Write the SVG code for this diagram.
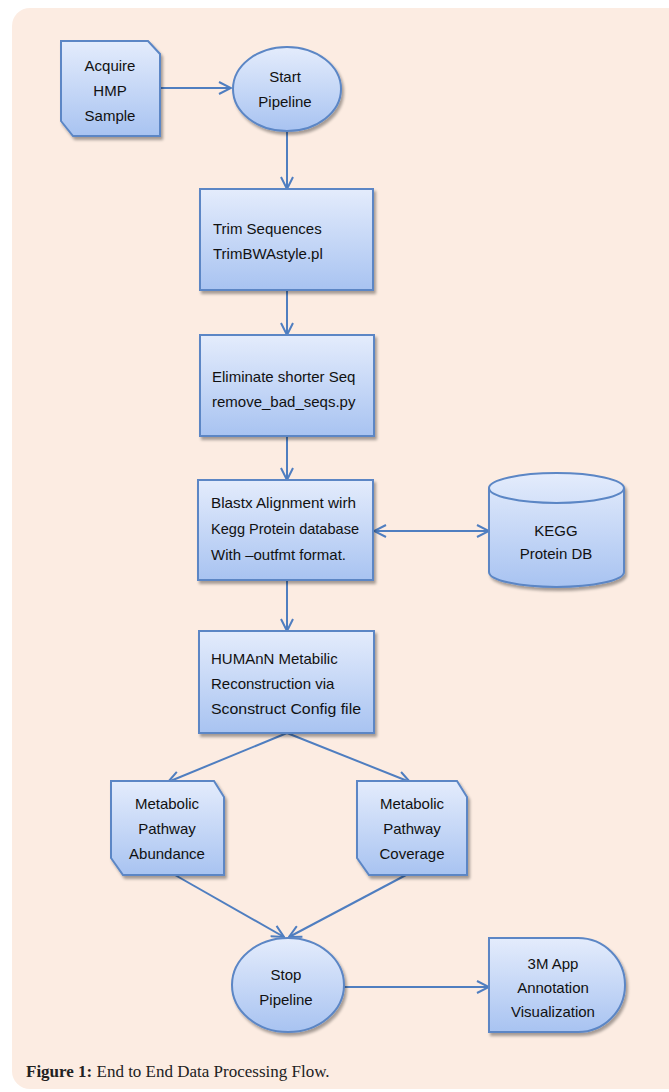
<svg xmlns="http://www.w3.org/2000/svg" width="669" height="1092" viewBox="0 0 669 1092">
<defs>
<linearGradient id="g" x1="0" y1="0" x2="0" y2="1">
<stop offset="0" stop-color="#e4ecfc"/>
<stop offset="1" stop-color="#a8c3f1"/>
</linearGradient>
<filter id="sh" x="-10%" y="-10%" width="130%" height="130%">
<feGaussianBlur in="SourceAlpha" stdDeviation="1.5"/>
<feOffset dx="2" dy="3" result="b"/>
<feComponentTransfer><feFuncA type="linear" slope="0.35"/></feComponentTransfer>
<feMerge><feMergeNode/><feMergeNode in="SourceGraphic"/></feMerge>
</filter>
<marker id="ah" viewBox="0 0 14 14" refX="13" refY="7" markerWidth="14" markerHeight="14" markerUnits="userSpaceOnUse" orient="auto-start-reverse">
<path d="M1,1 L13,7 L1,13" fill="none" stroke="#4f7ec0" stroke-width="2"/>
</marker>
<style>
.n{fill:url(#g);stroke:#5b86c5;stroke-width:2;filter:url(#sh)}
.t{font-family:"Liberation Sans",Arial,sans-serif;font-size:15px;fill:#111}
.c{text-anchor:middle}
.e{fill:none;stroke:#4f7ec0;stroke-width:2;marker-end:url(#ah)}
</style>
</defs>
<rect x="12" y="8" width="680" height="1081" rx="18" fill="#fcece2"/>
<g id="connectors">
<line class="e" x1="160" y1="88" x2="231" y2="88"/>
<line class="e" x1="287" y1="132" x2="287" y2="189"/>
<line class="e" x1="287" y1="290" x2="287" y2="335"/>
<line class="e" x1="287" y1="436" x2="287" y2="480"/>
<line class="e" x1="374" y1="531" x2="489" y2="531" style="marker-start:url(#ah)"/>
<line class="e" x1="287" y1="580" x2="287" y2="631"/>
<line class="e" x1="287" y1="733" x2="168" y2="782"/>
<line class="e" x1="287" y1="733" x2="410" y2="782"/>
<line class="e" x1="175" y1="875" x2="284" y2="937"/>
<line class="e" x1="406" y1="875" x2="289" y2="937"/>
<line class="e" x1="344" y1="987" x2="489" y2="987"/>
</g>
<g id="acquire">
<path class="n" d="M61,41 H148 L160,54 V136 H73 L61,121 Z"/>
<text class="t c" x="110" y="71">Acquire</text>
<text class="t c" x="110" y="96">HMP</text>
<text class="t c" x="110" y="121">Sample</text>
</g>
<g id="start">
<ellipse class="n" cx="287" cy="89" rx="54" ry="42"/>
<text class="t c" x="285" y="82">Start</text>
<text class="t c" x="285" y="107">Pipeline</text>
</g>
<g id="trim">
<rect class="n" x="200" y="189" width="173" height="101"/>
<text class="t" x="213" y="234">Trim Sequences</text>
<text class="t" x="213" y="259">TrimBWAstyle.pl</text>
</g>
<g id="eliminate">
<rect class="n" x="200" y="335" width="174" height="101"/>
<text class="t" x="212" y="382">Eliminate shorter Seq</text>
<text class="t" x="212" y="407">remove_bad_seqs.py</text>
</g>
<g id="blastx">
<rect class="n" x="198" y="480" width="175" height="100"/>
<text class="t" x="211" y="508" textLength="145" lengthAdjust="spacingAndGlyphs">Blastx Alignment wirh</text>
<text class="t" x="211" y="534" textLength="148" lengthAdjust="spacingAndGlyphs">Kegg Protein database</text>
<text class="t" x="211" y="560">With –outfmt format.</text>
</g>
<g id="kegg">
<path class="n" d="M489,488 A67.5,15 0 0 1 624,488 V572 A67.5,15 0 0 1 489,572 Z"/>
<path d="M489,488 A67.5,15 0 0 0 624,488" fill="none" stroke="#5b86c5" stroke-width="2"/>
<text class="t c" x="556" y="536">KEGG</text>
<text class="t c" x="556" y="559">Protein DB</text>
</g>
<g id="humann">
<rect class="n" x="199" y="631" width="175" height="102"/>
<text class="t" x="211" y="664">HUMAnN Metabilic</text>
<text class="t" x="211" y="689">Reconstruction via</text>
<text class="t" x="211" y="714" textLength="150" lengthAdjust="spacingAndGlyphs">Sconstruct Config file</text>
</g>
<g id="abundance">
<path class="n" d="M111,781 H214 L224,797 V875 H123 L111,858 Z"/>
<text class="t c" x="167" y="809">Metabolic</text>
<text class="t c" x="167" y="834">Pathway</text>
<text class="t c" x="167" y="859">Abundance</text>
</g>
<g id="coverage">
<path class="n" d="M357,781 H457 L467,797 V875 H369 L357,858 Z"/>
<text class="t c" x="412" y="809">Metabolic</text>
<text class="t c" x="412" y="834">Pathway</text>
<text class="t c" x="412" y="859">Coverage</text>
</g>
<g id="stop">
<ellipse class="n" cx="288" cy="985" rx="56" ry="47"/>
<text class="t c" x="286" y="980">Stop</text>
<text class="t c" x="286" y="1005">Pipeline</text>
</g>
<g id="app">
<path class="n" d="M489,938 H578 A47,47 0 0 1 578,1032 H489 Z"/>
<text class="t c" x="553" y="969">3M App</text>
<text class="t c" x="553" y="993">Annotation</text>
<text class="t c" x="553" y="1017">Visualization</text>
</g>
<text x="26" y="1077" font-family="'Liberation Serif','Times New Roman',serif" font-size="17" fill="#222"><tspan font-weight="bold">Figure 1:</tspan> End to End Data Processing Flow.</text>
</svg>
